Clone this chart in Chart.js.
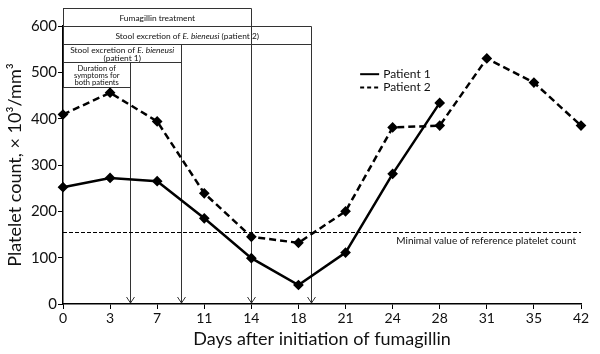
<!DOCTYPE html>
<html>
<head>
<meta charset="utf-8">
<script src="https://cdn.jsdelivr.net/npm/chart.js@4"></script>
<style>
  html, body { margin: 0; padding: 0; background: #fff; }
  #wrap { width: 600px; height: 354px; }
</style>
</head>
<body>
<div id="wrap"><canvas id="chart" width="600" height="354"></canvas></div>
<script>
const days = ['0', '3', '7', '11', '14', '18', '21', '24', '28', '31', '35', '42'];
const patient1 = [252, 272, 265, 185, 99, 41, 111, 281, 434, null, null, null];
const patient2 = [409, 456, 394, 239, 145, 132, 200, 381, 385, 530, 478, 385];
const yTicks = [0, 100, 200, 300, 400, 500, 600];
const referenceMin = 155;
const referenceLabel = 'Minimal value of reference platelet count';

// periods shown as boxes above the plot; end = category index where the arrow falls
const periodEnds = [1.43, 2.5, 4, 5.26];
const periodLabels = [
    [[['Duration of', false]], [['symptoms for', false]], [['both patients', false]]],
    [[['Stool excretion of ', false], ['E. bieneusi', true]], [['(patient 1)', false]]],
    [[['Fumagillin treatment', false]]],
    [[['Stool excretion of ', false], ['E. bieneusi', true], [' (patient 2)', false]]]
];
// box top / bottom in platelet units
const periodTops = [522, 561, 639, 600];
const periodBottoms = [468, 522, 600, 561];

const FONT = 'Lato';

const drawRich = (ctx, parts, cx, cy, size) => {
    let total = 0;
    parts.forEach(([t, it]) => {
        ctx.font = (it ? 'italic ' : '') + size + 'px ' + FONT;
        total += ctx.measureText(t).width;
    });
    let x = cx - total / 2;
    parts.forEach(([t, it]) => {
        ctx.font = (it ? 'italic ' : '') + size + 'px ' + FONT;
        ctx.fillText(t, x, cy);
        x += ctx.measureText(t).width;
    });
};

const annotations = {
    id: 'annotations',
    beforeDatasetsDraw(chart) {
        const { ctx, chartArea, scales: { x, y } } = chart;
        ctx.save();
        ctx.strokeStyle = '#333';
        ctx.fillStyle = '#111';
        ctx.lineWidth = 1;
        ctx.textAlign = 'left';
        ctx.textBaseline = 'middle';
        const base = y.getPixelForValue(0);
        periodEnds.forEach((end, i) => {
            const xr = Math.round(x.getPixelForValue(end)) + 0.5;
            const top = Math.round(y.getPixelForValue(periodTops[i])) + 0.5;
            const bot = Math.round(y.getPixelForValue(periodBottoms[i])) + 0.5;
            const xl = chartArea.left;
            ctx.beginPath();
            ctx.moveTo(xl, top);
            ctx.lineTo(xr, top);
            ctx.moveTo(xl, bot);
            ctx.lineTo(xr, bot);
            ctx.moveTo(xl + 0.5, top);
            ctx.lineTo(xl + 0.5, bot);
            ctx.moveTo(xr, top);
            ctx.lineTo(xr, base - 1);
            ctx.stroke();
            // arrow head
            ctx.beginPath();
            ctx.moveTo(xr - 4, base - 7);
            ctx.lineTo(xr, base - 1);
            ctx.lineTo(xr + 4, base - 7);
            ctx.stroke();
            const lines = periodLabels[i];
            const size = lines.length > 2 ? 7.6 : 8.4;
            const lh = lines.length > 2 ? 7.4 : 8.2;
            const cx = (xl + xr) / 2;
            const cy = (top + bot) / 2 + 0.5;
            lines.forEach((parts, k) => {
                drawRich(ctx, parts, cx, cy + (k - (lines.length - 1) / 2) * lh, size);
            });
        });

        // reference line
        const ry = Math.round(y.getPixelForValue(referenceMin)) + 0.5;
        ctx.strokeStyle = '#000';
        ctx.setLineDash([4, 2]);
        ctx.beginPath();
        ctx.moveTo(chartArea.left, ry);
        ctx.lineTo(chartArea.right, ry);
        ctx.stroke();
        ctx.setLineDash([]);
        ctx.font = '10px ' + FONT;
        ctx.textAlign = 'right';
        ctx.textBaseline = 'top';
        ctx.fillText(referenceLabel, chartArea.right - 5, ry + 3);

        // legend
        const lx = x.getPixelForValue(6.31);
        [['Patient 1', [], 496], ['Patient 2', [4, 3], 467]].forEach(([label, dash, v]) => {
            const ly = y.getPixelForValue(v);
            ctx.lineWidth = 2;
            ctx.setLineDash(dash);
            ctx.beginPath();
            ctx.moveTo(lx, ly);
            ctx.lineTo(lx + 19, ly);
            ctx.stroke();
            ctx.setLineDash([]);
            ctx.font = '12px ' + FONT;
            ctx.textAlign = 'left';
            ctx.textBaseline = 'middle';
            ctx.fillText(label, lx + 23, ly);
        });
        ctx.restore();
    }
};

new Chart(document.getElementById('chart'), {
    type: 'line',
    data: {
        labels: days,
        datasets: [{
            label: 'Patient 1',
            data: patient1,
            borderColor: '#000',
            backgroundColor: '#000',
            borderWidth: 2.5,
            pointStyle: 'rectRot',
            pointRadius: 3.6,
            tension: 0
        }, {
            label: 'Patient 2',
            data: patient2,
            borderColor: '#000',
            backgroundColor: '#000',
            borderWidth: 2.5,
            borderDash: [7, 4],
            pointStyle: 'rectRot',
            pointRadius: 3.6,
            tension: 0
        }]
    },
    options: {
        responsive: false,
        animation: false,
        layout: { padding: { top: 26, right: 19, left: 0, bottom: 0 } },
        plugins: {
            legend: { display: false },
            tooltip: { enabled: false }
        },
        scales: {
            x: {
                offset: false,
                grid: { display: true, drawOnChartArea: false, color: '#000', tickLength: 5 },
                border: { color: '#000', width: 1.5 },
                ticks: { color: '#111', font: { family: FONT, size: 14 }, padding: 1, maxRotation: 0, autoSkip: false },
                title: { display: true, text: 'Days after initiation of fumagillin', color: '#111', font: { family: FONT, size: 18 }, padding: { top: 2 } },
                afterFit: (s) => { s.height = 50; }
            },
            y: {
                min: 0,
                max: 600,
                afterBuildTicks: (s) => { s.ticks = yTicks.map(v => ({ value: v })); },
                grid: { display: true, drawOnChartArea: false, color: '#000', tickLength: 5 },
                border: { color: '#000', width: 1.5 },
                ticks: { color: '#111', font: { family: FONT, size: 15 }, padding: 1 },
                title: { display: true, text: 'Platelet count, × 10³/mm³', color: '#111', font: { family: FONT, size: 18 }, padding: { bottom: 4 } },
                afterFit: (s) => { s.width = 63; }
            }
        }
    },
    plugins: [annotations]
});
</script>
</body>
</html>
